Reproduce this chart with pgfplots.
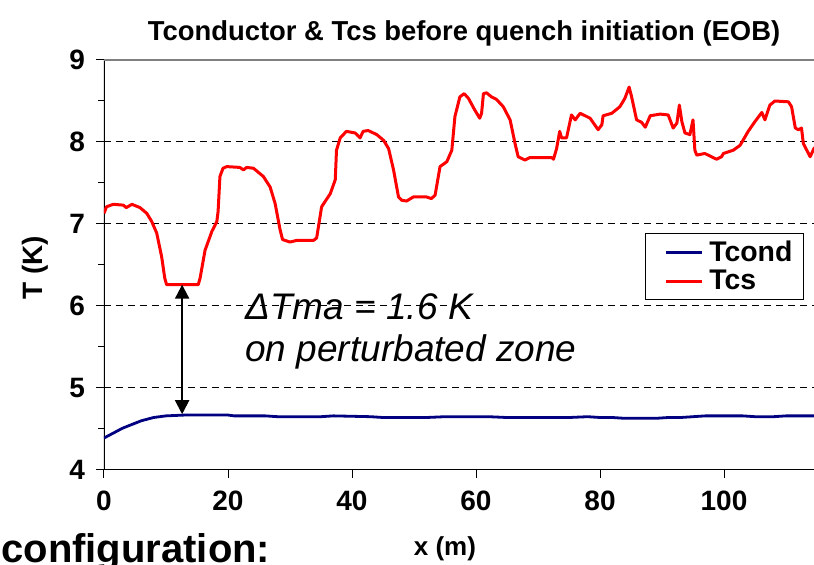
\documentclass[border=0pt]{standalone}
\usepackage{pgfplots}
\pgfplotsset{compat=1.18}
\usepackage{fontspec}
\setmainfont{Liberation Sans}
\usetikzlibrary{arrows.meta}
\definecolor{navyb}{RGB}{0,0,128}
\begin{document}
\begin{tikzpicture}
\begin{axis}[
  scale only axis,
  width=359.6pt, height=205pt,
  xmin=0, xmax=116, ymin=4, ymax=9,
  xtick={0,20,...,100}, ytick={4,5,...,9},
  minor y tick num=1,
  tick align=outside,
  xtick pos=left, ytick pos=left,
  major tick length=4pt, minor tick length=3pt,
  every tick/.style={black, line width=0.5pt},
  axis line style={draw=none},
  ymajorgrids,
  major grid style={black, line width=0.5pt, dash pattern=on 3.5pt off 2.5pt},
  /pgf/number format/assume math mode=true,
  tick label style={font=\fontsize{14}{16}\selectfont\bfseries},
  xticklabel style={yshift=-3pt},
  yticklabel style={xshift=-2pt},
  every axis title shift=0pt,
  title={Tconductor \& Tcs before quench initiation (EOB)},
  title style={font=\fontsize{13.7}{16}\selectfont\bfseries, at={(axis description cs:0.5006,1.066)}, anchor=center},
  xlabel={x (m)},
  xlabel style={font=\fontsize{13}{15}\selectfont\bfseries, at={(axis description cs:0.474,-0.193)}, anchor=center},
  ylabel={T (K)},
  ylabel style={font=\fontsize{14}{16}\selectfont\bfseries, at={(axis description cs:-0.096,0.493)}, anchor=center, rotate=0},
  legend style={at={(axis description cs:0.752,0.578)}, anchor=north west, draw=black, line width=0.5pt,
     font=\fontsize{14.2}{16}\selectfont\bfseries, inner xsep=3.5pt, inner ysep=1.5pt, row sep=-1pt},
  legend cell align=left,
  legend image code/.code={\path[draw=none, fill=none] (0pt,-1pt) rectangle (26.5pt,1pt); \draw[#1, line width=1.5pt] (7pt,0pt) -- (25pt,0pt);},
]
\draw[black, line width=0.6pt] (axis cs:0,4) -- (axis cs:116,4);
\draw[black, line width=0.6pt] (axis cs:0,3.95) -- (axis cs:0,9);
\draw[gray, line width=0.8pt] (axis cs:0,9) -- (axis cs:116,9);
\coordinate (O) at (axis cs:0,4);

\addplot[navyb, line width=1.4pt, line join=round] coordinates {
(0,4.39) (1,4.43) (2,4.47) (3,4.51) (4,4.54) (5,4.57) (6,4.60) (7,4.62) (8,4.64) (10,4.66) (13,4.67) (20,4.67) (21,4.66) (26,4.66) (28,4.65) (35,4.65) (37,4.66) (43,4.65) (45,4.64) (52,4.64) (55,4.65) (62,4.65) (65,4.64) (75,4.64) (78,4.65) (80,4.64) (82,4.64) (84,4.63) (89,4.63) (91,4.64) (93,4.64) (95,4.65) (97,4.66) (103,4.66) (105,4.65) (108,4.65) (110,4.66) (116,4.66)
};
\addlegendentry{Tcond}

\addplot[red, line width=1.5pt, line join=round] coordinates {
(0,7.13) (0.4,7.21) (1.5,7.24) (3.1,7.23) (3.6,7.20) (4.5,7.24) (5.8,7.20) (6.9,7.13) (7.7,7.03) (8.5,6.89) (9.3,6.60) (9.8,6.34) (10.1,6.26) (15.2,6.26) (15.5,6.34) (16.3,6.68) (17.4,6.91) (18.2,7.03) (18.4,7.15) (18.7,7.58) (19.2,7.68) (19.8,7.70) (21.9,7.69) (22.5,7.66) (23.0,7.69) (24.1,7.68) (25.7,7.58) (26.8,7.45) (27.6,7.25) (28.4,6.93) (28.8,6.81) (30.0,6.78) (31.1,6.80) (33.8,6.80) (34.3,6.83) (35.1,7.21) (36.5,7.37) (37.3,7.54) (37.5,7.90) (38.1,8.05) (39.1,8.13) (40.5,8.11) (41.3,8.05) (41.8,8.13) (42.6,8.14) (44.0,8.09) (45.1,8.02) (45.9,7.92) (46.7,7.66) (47.5,7.33) (48.0,7.29) (48.8,7.28) (49.9,7.33) (52.0,7.33) (52.8,7.31) (53.4,7.35) (54.2,7.70) (55.3,7.76) (56.1,7.90) (56.6,8.31) (57.4,8.55) (58.1,8.59) (58.8,8.53) (59.8,8.39) (60.6,8.29) (60.9,8.35) (61.2,8.59) (61.7,8.60) (62.5,8.55) (63.3,8.52) (64.4,8.43) (65.5,8.27) (66.3,7.98) (66.8,7.82) (67.9,7.78) (68.7,7.81) (72.2,7.81) (72.5,7.79) (73.0,7.92) (73.5,8.13) (73.8,8.05) (74.6,8.05) (75.4,8.33) (76.0,8.27) (76.8,8.35) (78.4,8.29) (79.7,8.15) (80.3,8.21) (80.5,8.32) (81.9,8.35) (83.2,8.43) (84.0,8.53) (84.7,8.67) (85.1,8.55) (85.9,8.27) (86.7,8.24) (87.3,8.18) (88.1,8.32) (89.7,8.34) (91.0,8.33) (91.8,8.17) (92.4,8.23) (92.8,8.45) (93.2,8.25) (93.7,8.11) (94.5,8.09) (95.0,8.27) (95.3,7.90) (95.6,7.84) (96.9,7.86) (98.8,7.79) (99.6,7.82) (99.9,7.86) (101.5,7.90) (102.6,7.96) (103.9,8.13) (105.0,8.25) (106.1,8.36) (106.6,8.27) (107.4,8.45) (108.2,8.50) (110.4,8.49) (110.9,8.43) (111.5,8.17) (112.0,8.15) (112.5,8.17) (112.8,7.98) (113.9,7.82) (114.5,7.92) (115.5,8.00)
};
\addlegendentry{Tcs}

\draw[black, line width=1pt, {Triangle[width=7pt,length=7pt]}-{Triangle[width=7pt,length=7pt]}] (axis cs:12.6,6.26) -- (axis cs:12.6,4.68);
\end{axis}
\node[anchor=base west, inner sep=0pt, font=\fontsize{18.5}{21}\selectfont\itshape] at ([shift={(70.5pt,75pt)}]O) {ΔTma = 1.6 K};
\node[anchor=base west, inner sep=0pt, font=\fontsize{18.5}{21}\selectfont\itshape] at ([shift={(70.5pt,54pt)}]O) {on perturbated zone};
\node[anchor=base west, inner sep=0pt, font=\fontsize{20}{24}\selectfont\bfseries] at ([shift={(-51.5pt,-46.5pt)}]O) {configuration:};
\pgfresetboundingbox
\useasboundingbox ([shift={(-52pt,-47.5pt)}]O) rectangle ([shift={(355pt,235pt)}]O);
\end{tikzpicture}
\end{document}
